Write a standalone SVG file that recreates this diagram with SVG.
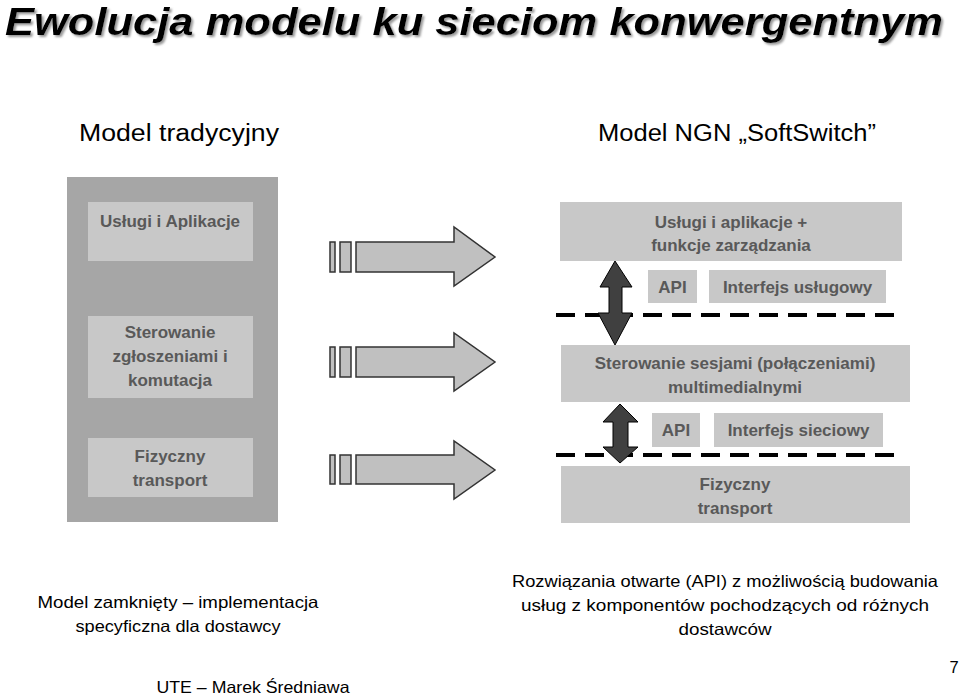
<svg xmlns="http://www.w3.org/2000/svg" width="960" height="696" viewBox="0 0 960 696">
<defs>
<filter id="shadow" x="-5%" y="-20%" width="110%" height="150%">
<feDropShadow dx="2" dy="2" stdDeviation="0.8" flood-color="#808080" flood-opacity="0.8"/>
</filter>
</defs>
<style>
.lbl{font-family:"Liberation Sans",Arial,sans-serif;font-size:17px;font-weight:bold;fill:#595959;text-anchor:middle}
.box{fill:#c8c8c8}
.sub{font-family:"Liberation Sans",Arial,sans-serif;font-size:23px;fill:#000}
.note{font-family:"Liberation Sans",Arial,sans-serif;font-size:16.5px;fill:#000;text-anchor:middle}
.arr{fill:#c0c0c0;stroke:#333;stroke-width:1.5}
.dash{stroke:#000;stroke-width:4;stroke-dasharray:19 10;fill:none}
.dbl{fill:#404040;stroke:#000;stroke-width:1}
</style>
<rect width="960" height="696" fill="#fff"/>
<g id="title">
<text x="5" y="35" font-family="Liberation Sans,Arial,sans-serif" font-size="38" font-weight="bold" font-style="italic" fill="#000" filter="url(#shadow)" textLength="938" lengthAdjust="spacingAndGlyphs">Ewolucja modelu ku sieciom konwergentnym</text>
</g>
<text class="sub" x="79" y="141" textLength="200" lengthAdjust="spacingAndGlyphs">Model tradycyjny</text>
<text class="sub" x="598" y="141" textLength="278" lengthAdjust="spacingAndGlyphs">Model NGN „SoftSwitch”</text>

<g id="traditional">
<rect x="67" y="177" width="211" height="345" fill="#a6a6a6"/>
<g id="trad-services">
<rect class="box" x="88" y="202" width="165" height="59"/>
<text class="lbl" x="170" y="227">Usługi i Aplikacje</text>
</g>
<g id="trad-control">
<rect class="box" x="88" y="316" width="165" height="82"/>
<text class="lbl" x="170" y="338">Sterowanie</text>
<text class="lbl" x="170" y="362">zgłoszeniami i</text>
<text class="lbl" x="170" y="386">komutacja</text>
</g>
<g id="trad-transport">
<rect class="box" x="88" y="438" width="165" height="59"/>
<text class="lbl" x="170" y="462">Fizyczny</text>
<text class="lbl" x="170" y="486">transport</text>
</g>
</g>

<g id="connectors">
<g id="arrow1">
<rect class="arr" x="330" y="242" width="5" height="30"/>
<rect class="arr" x="340" y="242" width="11" height="30"/>
<polygon class="arr" points="356,242 454,242 454,227 495,257 454,286 454,272 356,272"/>
</g>
<g id="arrow2">
<rect class="arr" x="330" y="347" width="5" height="30"/>
<rect class="arr" x="340" y="347" width="11" height="30"/>
<polygon class="arr" points="356,347 454,347 454,333 495,362 454,391 454,377 356,377"/>
</g>
<g id="arrow3">
<rect class="arr" x="330" y="455" width="5" height="29"/>
<rect class="arr" x="340" y="455" width="11" height="29"/>
<polygon class="arr" points="356,455 454,455 454,441 495,470 454,499 454,484 356,484"/>
</g>
<line class="dash" x1="556" y1="315" x2="904" y2="315"/>
<line class="dash" x1="556" y1="455" x2="904" y2="455"/>
<polygon class="dbl" points="615,261 632,287 622,287 622,313 632,313 615,345 598,313 609,313 609,287 600,287"/>
<polygon class="dbl" points="620,404 638,422 628,422 628,447 638,447 620,463 603,447 613,447 613,422 603,422"/>
</g>

<g id="ngn-services">
<rect class="box" x="560" y="202" width="342" height="59"/>
<text class="lbl" x="731" y="228">Usługi i aplikacje +</text>
<text class="lbl" x="731" y="251">funkcje zarządzania</text>
</g>
<g id="api1">
<rect class="box" x="648" y="270" width="49" height="33"/>
<text class="lbl" x="672.5" y="293">API</text>
</g>
<g id="service-if">
<rect class="box" x="709" y="270" width="177" height="33"/>
<text class="lbl" x="797.5" y="293">Interfejs usługowy</text>
</g>
<g id="ngn-control">
<rect class="box" x="561" y="345" width="349" height="57"/>
<text class="lbl" x="735" y="369">Sterowanie sesjami (połączeniami)</text>
<text class="lbl" x="735" y="393">multimedialnymi</text>
</g>
<g id="api2">
<rect class="box" x="652" y="413" width="48" height="34"/>
<text class="lbl" x="676" y="436">API</text>
</g>
<g id="network-if">
<rect class="box" x="714" y="413" width="169" height="34"/>
<text class="lbl" x="798.5" y="436">Interfejs sieciowy</text>
</g>
<g id="ngn-transport">
<rect class="box" x="561" y="466" width="349" height="57"/>
<text class="lbl" x="735" y="490">Fizyczny</text>
<text class="lbl" x="735" y="514">transport</text>
</g>

<g id="notes">
<text class="note" x="178" y="608" textLength="281" lengthAdjust="spacingAndGlyphs">Model zamknięty – implementacja</text>
<text class="note" x="178" y="632" textLength="205" lengthAdjust="spacingAndGlyphs">specyficzna dla dostawcy</text>
<text class="note" x="725" y="587" textLength="426" lengthAdjust="spacingAndGlyphs">Rozwiązania otwarte (API) z możliwością budowania</text>
<text class="note" x="725" y="611" textLength="408" lengthAdjust="spacingAndGlyphs">usług z komponentów pochodzących od różnych</text>
<text class="note" x="725" y="635" textLength="93" lengthAdjust="spacingAndGlyphs">dostawców</text>
<text class="note" x="253" y="693" textLength="193" lengthAdjust="spacingAndGlyphs">UTE – Marek Średniawa</text>
<text class="note" x="954" y="673" font-size="18">7</text>
</g>
</svg>
